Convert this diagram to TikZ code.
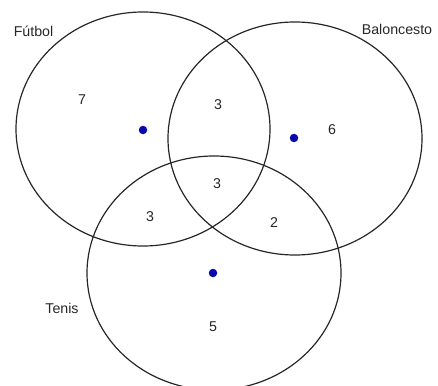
\documentclass[tikz,border=0pt]{standalone}
\usepackage{fontspec}
\setmainfont{Liberation Sans}
\definecolor{dotblue}{RGB}{10,10,170}
\begin{document}
\begin{tikzpicture}[x=1pt,y=-1pt,
  setline/.style={draw=black!85,line width=1.2pt},
  centre/.style={circle,fill=dotblue,inner sep=0pt,minimum size=8.5pt},
  lab/.style={font=\fontsize{14.2}{16}\selectfont,inner sep=0pt,text=black!85}]
\useasboundingbox (0,0) rectangle (438,385);
\draw[setline] (143,129) ellipse [x radius=127,y radius=117];
\draw[setline] (295,138.5) ellipse [x radius=127,y radius=116.5];
\draw[setline] (214,273) ellipse [x radius=127,y radius=117];
\node[centre] (cf) at (143,130) {};
\node[centre] (cb) at (294,138) {};
\node[centre] (ct) at (213,273) {};
\node[lab] (lf) at (33.5,31) {Fútbol};
\node[lab] (lb) at (397,29) {Baloncesto};
\node[lab] (lt) at (62,308) {Tenis};
\node[lab] (n7) at (82,100) {7};
\node[lab] (n3a) at (218,105) {3};
\node[lab] (n6) at (332,130) {6};
\node[lab] (n3b) at (217,184) {3};
\node[lab] (n3c) at (150,217) {3};
\node[lab] (n2) at (274,223) {2};
\node[lab] (n5) at (213,327) {5};
\end{tikzpicture}
\end{document}
